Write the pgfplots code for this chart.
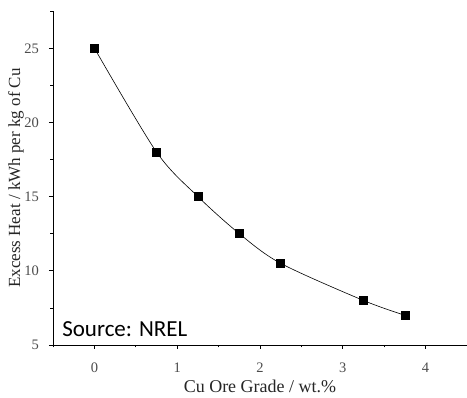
\documentclass[border=0pt]{standalone}
\usepackage{fontspec}
\setmainfont{Liberation Serif}
\newfontfamily\srcfont{Carlito}
\usepackage{pgfplots}
\pgfplotsset{compat=1.18}
\begin{document}
\begin{tikzpicture}
\useasboundingbox (-53pt,-53pt) rectangle (414pt,345pt);
\begin{axis}[
  scale only axis, width=414pt, height=334pt,
  at={(0,0)}, anchor=south west,
  xmin=-0.5, xmax=4.5, ymin=5, ymax=27.5,
  axis x line*=bottom, axis y line*=left,
  xtick={0,1,2,3,4}, ytick={5,10,15,20,25},
  minor xtick={-0.5,0.5,1.5,2.5,3.5,4.5},
  minor ytick={7.5,12.5,17.5,22.5,27.5},
  tick align=outside,
  major tick length=4pt, minor tick length=2.5pt,
  tick style={black, line width=0.6pt},
  axis line style={line width=0.7pt},
  /pgf/number format/assume math mode=true,
  ticklabel style={font=\fontsize{14.5}{17}\selectfont, text=black!70},
  xticklabel style={anchor=base, yshift=-24pt, inner sep=0pt},
  yticklabel style={anchor=base east, yshift=-5pt, xshift=-10pt, inner sep=0pt},
  xlabel={Cu Ore Grade / wt.\%},
  ylabel={Excess Heat / kWh per kg of Cu},
  label style={text=black!85},
  xlabel style={font=\fontsize{18}{20}\selectfont, at={(axis description cs:0.5,0)}, anchor=base, yshift=-48pt, inner sep=0pt},
  ylabel style={font=\fontsize{17}{19}\selectfont, at={(axis description cs:0,0.5)}, anchor=center, yshift=37pt, inner sep=0pt},
  clip=false,
]
\addplot[black, line width=0.6pt, smooth, mark=square*, mark size=4pt] coordinates {
  (0,25) (0.75,18) (1.25,15) (1.75,12.5) (2.25,10.5) (3.25,8) (3.75,7)
};
\node[anchor=base west, font=\srcfont\fontsize{23}{27}\selectfont, inner sep=0pt] at (axis cs:-0.39,5.6) {Source: NREL};
\end{axis}
\end{tikzpicture}
\end{document}
